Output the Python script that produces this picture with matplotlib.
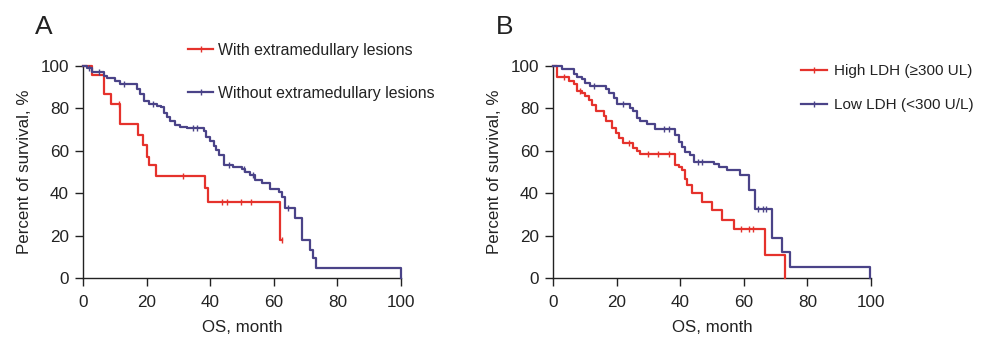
import matplotlib
matplotlib.use('Agg')
import matplotlib.pyplot as plt
from matplotlib.lines import Line2D

plt.rcParams['font.family'] = ['Liberation Sans', 'DejaVu Sans']

RED = '#e5322c'
BLUE = '#4a4388'

# Panel A: extramedullary lesions
a_with_t = [0, 2.8, 6.7, 8.8, 11.5, 17.4, 19.0, 20.2, 20.9, 23.1, 38.5, 39.3, 61.8, 62.5]
a_with_s = [100, 95.8, 87, 82.3, 72.7, 67.5, 62.8, 57.3, 53.1, 48.1, 42.5, 36, 18, 18]
a_with_cens_t = [11.2, 31.4, 43.7, 45.3, 49.7, 52.8, 62.5]
a_with_cens_s = [82.3, 48.1, 36, 36, 36, 36, 18]

a_without_t = [0, 1.3, 2.8, 6.5, 7.5, 10.2, 11.7, 17, 18, 19.1, 20.6, 23.3, 24.5, 25.4,
               26.4, 27.5, 29, 30.6, 32.7, 37.9, 38.8, 40, 41.1, 41.9, 42.7, 44.2, 47.3,
               49.9, 51, 52.6, 54.2, 56.3, 58.9, 61.5, 62.6, 63.6, 66.7, 68.8, 71.3, 72.4,
               73.3, 100]
a_without_s = [100, 99, 97.3, 95.3, 94.5, 93, 91.4, 89, 86.7, 83.6, 82.3, 81.3, 80.5, 78,
               75.8, 74, 72.3, 71.4, 70.8, 69.5, 66.4, 64.8, 62.5, 60.2, 57.8, 53.2, 52.4,
               51.6, 50, 48.5, 46.1, 44.6, 42.2, 40.7, 38.3, 32.9, 28.2, 18, 13.3, 9.4,
               4.7, 0]
a_without_cens_t = [2, 5, 13, 22, 34.5, 36, 46, 50.5, 53.5, 64.5]
a_without_cens_s = [99, 97.3, 91.4, 82.3, 70.8, 70.8, 53.2, 51.6, 48.5, 32.9]

# Panel B: LDH
b_high_t = [0, 1.3, 4.9, 6.5, 7.5, 9.1, 10.2, 11.3, 12.4, 13.5, 16.0, 16.6, 18.7, 19.8,
            20.8, 21.9, 25.3, 26.4, 27.4, 38.4, 39.5, 40.6, 41.6, 42.1, 43.7, 46.9, 50.0,
            53.2, 56.9, 66.8, 73.1]
b_high_s = [100, 94.6, 93.1, 91.3, 88.3, 87.5, 86, 84, 81.7, 78.6, 76.3, 73.9, 70.8, 68.4,
            66, 63.7, 61.3, 59.7, 58.5, 53.5, 52.4, 50.8, 46.9, 43.8, 39.9, 36, 32.1,
            27.4, 23.3, 10.9, 0]
b_high_cens_t = [3.5, 8.5, 24, 30, 33, 36.5, 59, 61.5, 63]
b_high_cens_s = [94.6, 88.3, 63.7, 58.5, 58.5, 58.5, 23.3, 23.3, 23.3]

b_low_t = [0, 2.8, 6.5, 7.5, 9.1, 10.2, 11.7, 16.6, 17.6, 19.2, 20.2, 24.3, 25.3, 26.4,
           27.4, 29.5, 32.2, 38.4, 39.5, 40.6, 41.6, 43.2, 44.2, 50.5, 52.1, 54.7, 58.9,
           61.5, 63.6, 68.9, 72.0, 74.4, 99.6]
b_low_s = [100, 98.6, 96.2, 94.6, 93.8, 92.2, 90.6, 89, 87.5, 85, 82, 80.3, 78.8, 75.7,
           74.2, 72.6, 70.4, 67.3, 64.1, 61.8, 59.5, 57.9, 54.7, 54, 52.4, 50.8, 48.5,
           41.4, 32.4, 18.8, 12.5, 5.4, 0]
b_low_cens_t = [13, 22, 35, 36.5, 45.5, 47, 64.5, 66, 67]
b_low_cens_s = [90.6, 82, 70.4, 70.4, 54.7, 54.7, 32.4, 32.4, 32.4]

fig = plt.figure(figsize=(9.99, 3.4), dpi=100)
ax_a = fig.add_axes([83/999, 1-278/340, 318/999, 212/340])
ax_b = fig.add_axes([553/999, 1-278/340, 318/999, 212/340])


def draw_km(ax, t, s, ct, cs, color):
    ax.step(t, s, where='post', color=color, lw=1.6, clip_on=False, zorder=3)
    ax.plot(ct, cs, ls='none', marker='|', ms=4, mew=1.0, color=color,
            clip_on=False, zorder=3)


def style(ax):
    ax.set_xlim(0, 100)
    ax.set_ylim(0, 100)
    ax.set_xticks(range(0, 101, 20))
    ax.set_yticks(range(0, 101, 20))
    for sp in ['top', 'right']:
        ax.spines[sp].set_visible(False)
    for sp in ['left', 'bottom']:
        ax.spines[sp].set_linewidth(1.0)
        ax.spines[sp].set_color('#222222')
    ax.tick_params(direction='out', length=5.5, width=1.0, labelsize=12.3,
                   colors='#222222', labelcolor='#222222')
    ax.tick_params(axis='x', pad=7)
    ax.tick_params(axis='y', pad=4.5)
    ax.set_xlabel('OS, month', fontsize=12.2, labelpad=7, color='#222222')
    ax.set_ylabel('Percent of survival, %', fontsize=12.2, labelpad=6, color='#222222')


draw_km(ax_a, a_with_t, a_with_s, a_with_cens_t, a_with_cens_s, RED)
draw_km(ax_a, a_without_t, a_without_s, a_without_cens_t, a_without_cens_s, BLUE)
draw_km(ax_b, b_high_t, b_high_s, b_high_cens_t, b_high_cens_s, RED)
draw_km(ax_b, b_low_t, b_low_s, b_low_cens_t, b_low_cens_s, BLUE)
style(ax_a)
style(ax_b)

h_red = Line2D([], [], color=RED, lw=1.6, marker='|', ms=4, mew=1.0)
h_blue = Line2D([], [], color=BLUE, lw=1.6, marker='|', ms=4, mew=1.0)

fig.legend([h_red, h_blue], ['With extramedullary lesions', 'Without extramedullary lesions'],
           loc='upper left', bbox_to_anchor=(188/999, 1-43/340), frameon=False,
           fontsize=11.4, handlelength=1.6, handletextpad=0.3, labelspacing=1.75,
           borderpad=0, borderaxespad=0, labelcolor='#222222')
fig.legend([h_red, h_blue], ['High LDH (≥300 UL)', 'Low LDH (<300 U/L)'],
           loc='upper left', bbox_to_anchor=(801/999, 1-64/340), frameon=False,
           fontsize=11, handlelength=1.7, handletextpad=0.45, labelspacing=1.3,
           borderpad=0, borderaxespad=0, labelcolor='#222222')

fig.text(35/999, 1-27/340, 'A', fontsize=19, va='center', ha='left', color='#222222')
fig.text(496/999, 1-27/340, 'B', fontsize=19, va='center', ha='left', color='#222222')

fig.savefig('out.png', dpi=100, facecolor='white')
